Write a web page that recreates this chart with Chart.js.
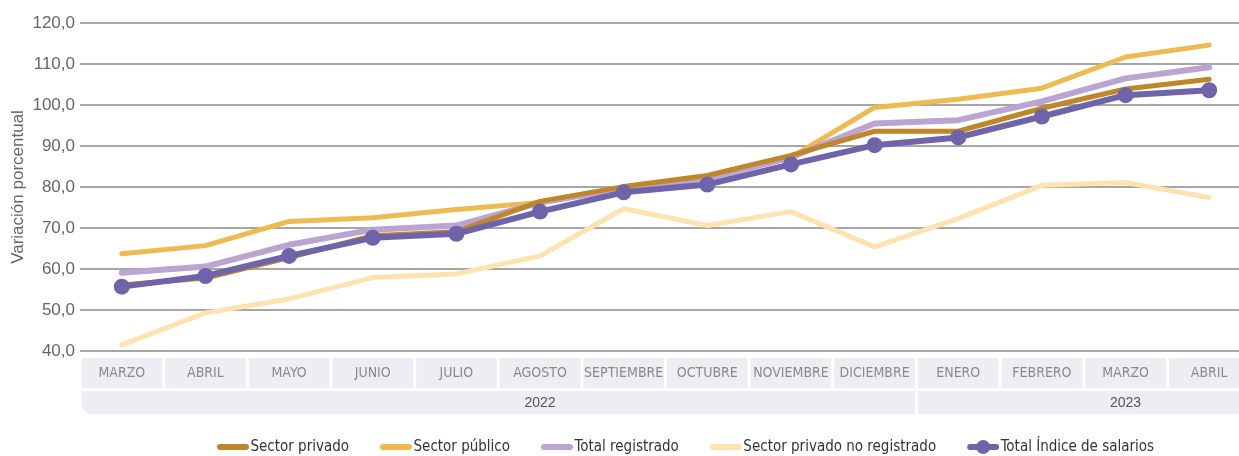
<!DOCTYPE html>
<html>
<head>
<meta charset="utf-8">
<script src="https://cdn.jsdelivr.net/npm/chart.js@4.4.0/dist/chart.umd.min.js"></script>
<style>
  html, body { margin: 0; padding: 0; background: #fff; overflow: hidden; width: 1239px; height: 456px; }
  #marco { width: 1239px; height: 456px; overflow: hidden; position: relative; }
  #salarios { display: block; position: absolute; left: 0; top: 0; }
</style>
</head>
<body>
<div id="marco"><canvas id="salarios" width="1259" height="456"></canvas></div>
<script>
const meses = ['MARZO', 'ABRIL', 'MAYO', 'JUNIO', 'JULIO', 'AGOSTO', 'SEPTIEMBRE', 'OCTUBRE', 'NOVIEMBRE', 'DICIEMBRE', 'ENERO', 'FEBRERO', 'MARZO', 'ABRIL']
const anios = ['2022', '2022', '2022', '2022', '2022', '2022', '2022', '2022', '2022', '2022', '2023', '2023', '2023', '2023']

const sectorPrivado   = [56.1, 57.8, 62.8, 68.1, 69.1, 76.5, 80.1, 82.8, 87.7, 93.6, 93.6, 99.2, 103.9, 106.3]
const sectorPublico   = [63.7, 65.7, 71.6, 72.5, 74.5, 76.2, 79.9, 82.3, 87.2, 99.4, 101.4, 104.1, 111.7, 114.6]
const totalRegistrado = [59.1, 60.6, 65.9, 69.6, 70.6, 76.2, 79.6, 82.1, 87.2, 95.5, 96.3, 100.9, 106.5, 109.2]
const noRegistrado    = [41.5, 49.3, 52.7, 57.9, 58.8, 63.2, 74.7, 70.6, 74.0, 65.4, 72.3, 80.4, 81.1, 77.4]
const totalIndice     = [55.7, 58.3, 63.2, 67.6, 68.6, 74.0, 78.7, 80.6, 85.5, 90.2, 92.1, 97.2, 102.4, 103.6]

const narrow = "'Liberation Sans Narrow', 'Arial Narrow', 'DejaVu Sans Condensed', sans-serif"
const regular = "'Liberation Sans', Arial, sans-serif"

// icono de la leyenda: linea (y punto para el total)
function icono(color, punto) {
  const c = document.createElement('canvas')
  c.width = 64; c.height = 18
  const g = c.getContext('2d')
  g.strokeStyle = color
  g.lineWidth = 6
  g.lineCap = 'round'
  g.beginPath(); g.moveTo(35, 9); g.lineTo(61, 9); g.stroke()
  if (punto) {
    g.fillStyle = color
    g.beginPath(); g.arc(48, 9, 7, 0, Math.PI * 2); g.fill()
  }
  return c
}

// celdas de meses y años bajo el eje
const celdas = {
  id: 'celdas',
  beforeDraw(chart) {
    const {ctx, chartArea, scales: {x}} = chart
    const paso = x.getPixelForValue(1) - x.getPixelForValue(0)
    const top1 = chartArea.bottom + 7, h1 = 30
    const top2 = top1 + h1 + 3, h2 = 23
    ctx.save()
    ctx.fillStyle = '#efedf4'
    meses.forEach((m, i) => {
      const cx = x.getPixelForValue(i)
      ctx.fillRect(cx - paso / 2 + 1.5, top1, paso - 3, h1)
    })
    let grupos = []
    anios.forEach((a, i) => {
      let g = grupos[grupos.length - 1]
      if (g && g.label === a) g.to = i
      else grupos.push({label: a, from: i, to: i})
    })
    grupos.forEach((g, k) => {
      const l = x.getPixelForValue(g.from) - paso / 2 + 1.5
      const r = x.getPixelForValue(g.to) + paso / 2 - 1.5
      ctx.beginPath()
      ctx.roundRect(l, top2, r - l, h2, [0, 0, k === grupos.length - 1 ? 10 : 0, k === 0 ? 10 : 0])
      ctx.fill()
    })
    ctx.fillStyle = '#555'
    ctx.font = '14px ' + regular
    ctx.textAlign = 'center'
    ctx.textBaseline = 'middle'
    grupos.forEach(g => {
      ctx.fillText(g.label, x.getPixelForValue(Math.ceil((g.from + g.to) / 2)), top2 + h2 / 2 + 1)
    })
    ctx.restore()
  },
  afterLayout(chart) {
    // leyenda corrida como en el original
    const L = chart.legend
    L.left += 43; L.right += 43
    L.top += 8.5; L.bottom += 8.5
  }
}

const linea = {tension: 0, fill: false, borderCapStyle: 'round', borderJoinStyle: 'round', pointRadius: 0, pointHoverRadius: 0}

let chartEle = document.getElementById('salarios').getContext('2d')

let chart = new Chart(chartEle, {
  type: 'line',
  data: {
    labels: meses,
    datasets: [
      {...linea, label: 'Sector privado', data: sectorPrivado, borderColor: '#c0872a', borderWidth: 5, order: 1},
      {...linea, label: 'Sector público', data: sectorPublico, borderColor: '#efba52', borderWidth: 5, order: 3},
      {...linea, label: 'Total registrado', data: totalRegistrado, borderColor: '#bba4d1', borderWidth: 6, order: 2},
      {...linea, label: 'Sector privado no registrado', data: noRegistrado, borderColor: '#fee3b1', borderWidth: 5, order: 4},
      {...linea, label: 'Total Índice de salarios', data: totalIndice, borderColor: '#6f63a9', backgroundColor: '#6f63a9',
        borderWidth: 6, pointRadius: 8, pointBorderWidth: 0, order: 0},
    ],
  },
  options: {
    responsive: false,
    animation: false,
    layout: {padding: {top: 23, bottom: 0, right: 0, left: 0}},
    scales: {
      x: {
        offset: true,
        grid: {display: false, drawTicks: false},
        border: {display: false},
        ticks: {color: '#8a8a8a', font: {family: narrow, size: 14}, padding: 14, maxRotation: 0, autoSkip: false},
        afterFit: (scale) => { scale.height = 75 },
      },
      y: {
        min: 40,
        max: 120,
        grid: {color: '#a6a6a6', lineWidth: 2, drawTicks: false},
        border: {display: false},
        ticks: {
          stepSize: 10,
          color: '#666',
          font: {family: regular, size: 17},
          padding: 5,
          callback: (v) => v.toFixed(1).replace('.', ','),
        },
        title: {display: true, text: 'Variación porcentual', color: '#666', font: {family: regular, size: 17}, padding: {top: 8, bottom: 0}},
        afterFit: (scale) => { scale.width = 80 },
      },
    },
    plugins: {
      legend: {
        display: true,
        position: 'bottom',
        labels: {
          usePointStyle: true,
          pointStyleWidth: 52,
          padding: 5,
          color: '#333',
          font: {family: narrow, size: 15},
          generateLabels: (ch) => ch.data.datasets.map((ds, i) => ({
            text: ds.label,
            fillStyle: ds.borderColor,
            strokeStyle: ds.borderColor,
            lineWidth: 0,
            fontColor: '#333',
            pointStyle: icono(ds.borderColor, ds.pointRadius > 0),
            hidden: false,
            datasetIndex: i,
          })),
        },
      },
      tooltip: {enabled: false},
    },
  },
  plugins: [celdas],
})
</script>
</body>
</html>
